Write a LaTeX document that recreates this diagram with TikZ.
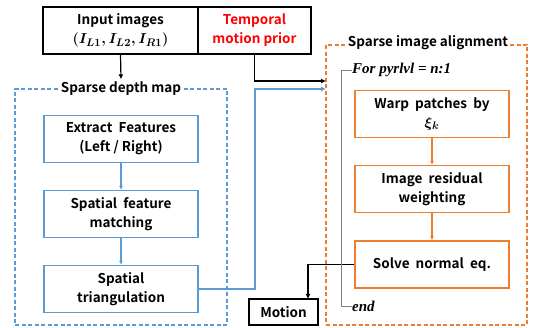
\documentclass[tikz,border=0pt]{standalone}
\usepackage{fontspec}
\setmainfont{Noto Sans CJK KR}[BoldFont=* Bold]
\newfontfamily\timesit{Liberation Serif}
\usepackage{amsmath}
\usetikzlibrary{arrows.meta,positioning,calc}
\definecolor{saBlue}{HTML}{5B9BD5}
\definecolor{saOrange}{HTML}{ED7D31}
\definecolor{saRed}{HTML}{FF0000}
\definecolor{saGray}{HTML}{808080}

\begin{document}
\begin{tikzpicture}[x=1pt,y=-1pt,font=\bfseries\fontsize{13.5}{19}\selectfont,
      box/.style={draw,line width=1.4pt,minimum width=154pt,minimum height=47pt,align=center,inner sep=1pt},
      bbox/.style={box,draw=saBlue},
      obox/.style={box,draw=saOrange},
      grp/.style={draw,dashed,dash pattern=on 4pt off 2.5pt,line width=1.3pt},
      glbl/.style={fill=white,inner sep=2pt},
      loopt/.style={font=\timesit\itshape\bfseries\fontsize{15}{17}\selectfont,inner sep=0pt,anchor=west}]
    \useasboundingbox (0,0) rectangle (538,328);
    \node[grp,draw=saBlue,minimum width=212pt,minimum height=236pt]   (sdm) at (121,207)   {};
    \node[grp,draw=saOrange,minimum width=201pt,minimum height=280pt] (sia) at (426.5,185) {};
    \node[glbl] (sdmlbl) at (sdm.north) {Sparse depth map};
    \node[glbl] (sialbl) at (428,43)    {Sparse image alignment};
    \node[box,line width=1.2pt,minimum width=155pt] (input) at (120.5,30.5) {Input images\\{\fontsize{15}{19}\selectfont$\boldsymbol{(I_{L1},I_{L2},I_{R1})}$}};
    \node[box,line width=1.2pt,minimum width=113pt,text=saRed] (prior) at (254.5,30.5) {Temporal\\motion prior};
    \node[bbox] (extract) at (121,139)   {Extract\ \ Features\\(Left / Right)};
    \node[bbox] (match)   at (121,214)   {Spatial\ \ feature\\matching};
    \node[bbox] (triang)  at (121,289)   {Spatial\\triangulation};
    \node[obox] (warp)    at (432,114)   {Warp\ \ patches\ \ by\\{\fontsize{15}{19}\selectfont$\boldsymbol{\xi_k}$}};
    \node[obox] (resid)   at (432,189)   {Image\ \ residual\\weighting};
    \node[obox] (solve)   at (432,264.5) {Solve\ \ normal\ \ eq.};
    \node[draw,line width=1.4pt,minimum width=69pt,minimum height=26pt,inner sep=1pt] (motion) at (283.5,312) {Motion};
    \node[loopt] (forlbl) at (352,70)  {For pyrlvl = n:1};
    \node[loopt] (endlbl) at (352,306) {end};
    \coordinate (inA)  at (326,81);
    \coordinate (inB)  at (326,89);
    \coordinate (bend) at (255,289);
    \coordinate (mtop) at (308,299);
    \draw[line width=1.2pt,-{Latex[length=5pt,width=5pt]}] (input.south) -- (sdmlbl.north);
    \draw[line width=1.2pt,-{Latex[length=5pt,width=5pt]}] (prior.south) |- (inA);
    \draw[saBlue,line width=1.2pt,-{Latex[length=5pt,width=5pt]}] (triang.east) -- (bend) |- (inB);
    \draw[saBlue,line width=1.2pt,-{Latex[length=4pt,width=4pt]}] (extract) -- (match);
    \draw[saBlue,line width=1.2pt,-{Latex[length=4pt,width=4pt]}] (match) -- (triang);
    \draw[saOrange,line width=1.2pt,-{Latex[length=4pt,width=4pt]}] (warp) -- (resid);
    \draw[saOrange,line width=1.2pt,-{Latex[length=4pt,width=4pt]}] (resid) -- (solve);
    \draw[line width=1.2pt,-{Latex[length=5pt,width=5pt]}] (solve.west) -| (mtop);
    \draw[saGray,line width=0.6pt] (forlbl.west) -- ++(-11,0) |- (endlbl.west);
  \end{tikzpicture}
\end{document}
